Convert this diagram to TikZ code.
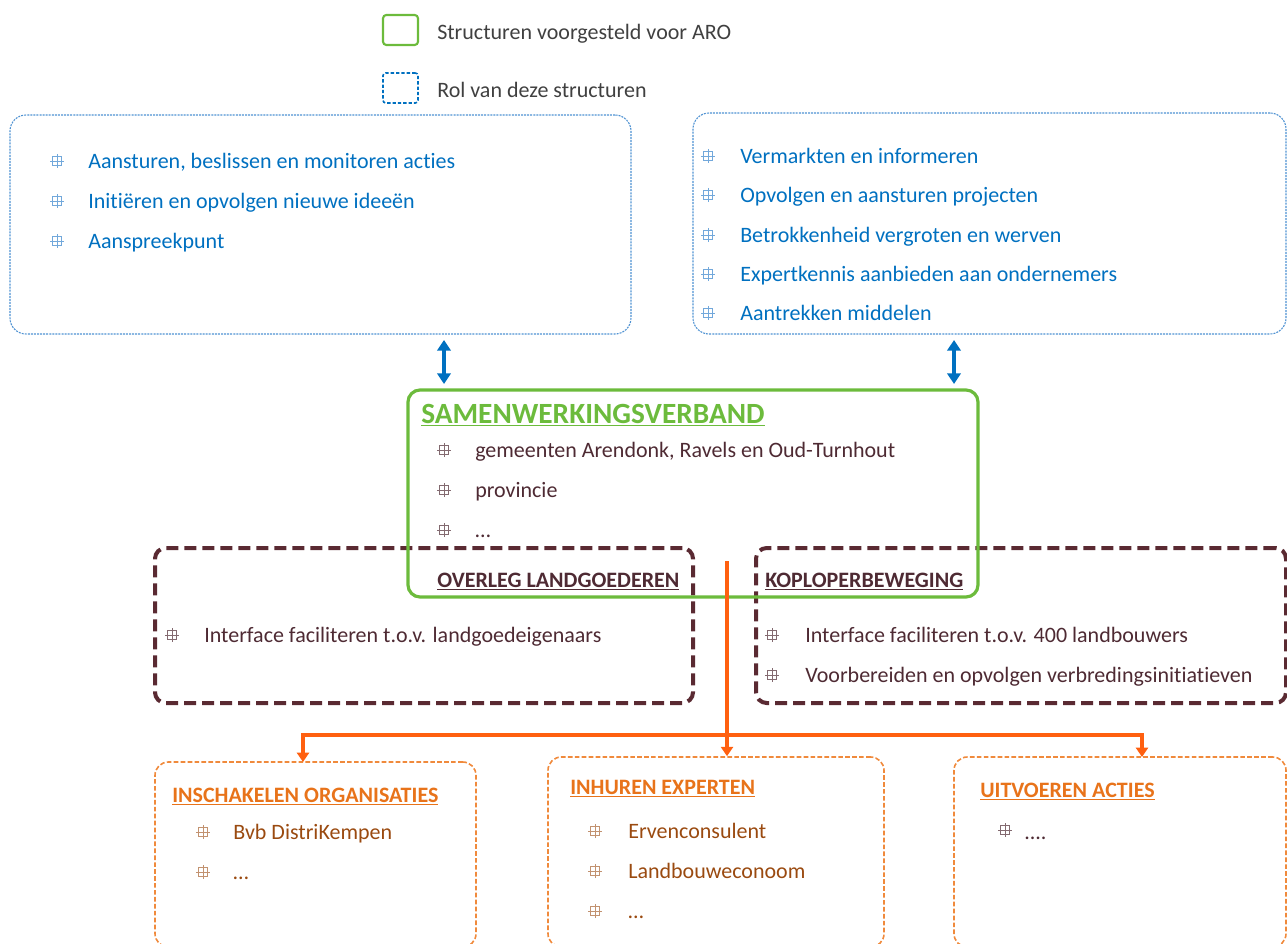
\documentclass[tikz,border=0pt]{standalone}
\usepackage{fontspec}
\setmainfont{Carlito}[Ligatures={NoCommon}]
\usetikzlibrary{arrows.meta,fit}
\definecolor{blueT}{HTML}{0070C0}
\definecolor{blueB}{HTML}{4F92D2}
\definecolor{greenB}{HTML}{6CBB3C}
\definecolor{maroonB}{HTML}{5A2A32}
\definecolor{maroonT}{HTML}{4E2A33}
\definecolor{orangeL}{HTML}{FF6010}
\definecolor{orangeB}{HTML}{F08A3C}
\definecolor{orangeT}{HTML}{E8731A}
\definecolor{brownT}{HTML}{9A4A10}
\definecolor{grayT}{HTML}{404040}
\tikzset{
  bul/.pic={\draw[line width=0.55pt] (-4.5,-4.5) rectangle (4.5,4.5) (-7,0) -- (7,0) (0,-7) -- (0,7);},
  txt/.style={anchor=west, inner sep=0pt, text height=10.8pt, text depth=0pt, font=\fontsize{16.5}{19}\selectfont},
  ttl/.style={anchor=west, inner sep=0pt, text height=11.5pt, text depth=0pt, font=\fontsize{16.5}{19}\selectfont\bfseries},
  bluebox/.style={draw=blueB, line width=0.8pt, dash pattern=on 1.5pt off 0.8pt, rounded corners=12pt, inner sep=0pt},
  greenbox/.style={draw=greenB, line width=2.4pt, rounded corners=9pt, inner sep=0pt},
  maroonbox/.style={draw=maroonB, line width=3pt, dash pattern=on 9pt off 4.5pt, rounded corners=8pt, inner sep=0pt},
  orangebox/.style={draw=orangeB, line width=1.2pt, dash pattern=on 3.5pt off 1.7pt, rounded corners=10pt, inner sep=0pt},
  bluearrow/.style={draw=blueT, line width=3pt, {Triangle[width=10pt,length=8pt]}-{Triangle[width=10pt,length=8pt]}},
  oline/.style={draw=orangeL, line width=2.6pt},
  oarrow/.style={oline, -{Triangle[width=9pt,length=7pt]}}
}
\begin{document}
\begin{tikzpicture}[x=0.75pt,y=-0.75pt]
\useasboundingbox (0,0) rectangle (1287,944);
\clip (0,0) rectangle (1287,944);

% legend
\node[draw=greenB, line width=1.6pt, rounded corners=2.5pt, inner sep=0pt, fit={(383,15) (418,45)}] (lg1) {};
\node[txt, text=grayT] (lt1) at (437,32) {Structuren voorgesteld voor ARO};
\node[draw=blueT, line width=1.2pt, dash pattern=on 2.5pt off 1.5pt, rounded corners=2pt, inner sep=0pt, fit={(383,73) (418,103)}] (lg2) {};
\node[txt, text=grayT] (lt2) at (437,90) {Rol van deze structuren};

% blue role boxes
\node[bluebox, fit={(10,115) (631,334)}] (boxL) {};
\node[bluebox, fit={(693,113) (1286,334)}] (boxR) {};
\foreach \y/\t in {161/{Aansturen, beslissen en monitoren acties},201/{Initiëren en opvolgen nieuwe ideeën},241/{Aanspreekpunt}}{
  \pic[color=blueB!80] at (57,\y) {bul};
  \node[txt, text=blueT] (L\y) at (88,\y) {\t};
}
\foreach \y/\t in {156/{Vermarkten en informeren},195/{Opvolgen en aansturen projecten},235/{Betrokkenheid vergroten en werven},274/{Expertkennis aanbieden aan ondernemers},313/{Aantrekken middelen}}{
  \pic[color=blueB!80] at (708,\y) {bul};
  \node[txt, text=blueT] (R\y) at (740,\y) {\t};
}

% maroon dashed boxes
\node[maroonbox, fit={(155,548) (693,703)}] (boxOL) {};
\node[maroonbox, fit={(756,548) (1286,703)}] (boxKB) {};

% green box
\node[greenbox, fit={(408,390) (978,597)}] (boxS) {};
\node[anchor=west, inner sep=0pt, text height=15.5pt, text depth=0pt, text=greenB, font=\fontsize{22}{25}\selectfont\bfseries] (tS) at (421,413) {\underline{SAMENWERKINGSVERBAND}};
\foreach \y/\t in {450/{gemeenten Arendonk, Ravels en Oud-Turnhout},490/{provincie},530/{…}}{
  \pic[color=maroonT!70] at (444,\y) {bul};
  \node[txt, text=maroonT] (S\y) at (475,\y) {\t};
}

% maroon contents
\node[ttl, text=maroonT] (tOL) at (437,580) {\underline{OVERLEG LANDGOEDEREN}};
\pic[color=maroonT!70] at (172,635) {bul};
\node[txt, text=maroonT] (OL1) at (204,635) {Interface faciliteren t.o.v. landgoedeigenaars};
\node[ttl, text=maroonT] (tKB) at (765,580) {\underline{KOPLOPERBEWEGING}};
\foreach \y/\t in {635/{Interface faciliteren t.o.v. 400 landbouwers},675/{Voorbereiden en opvolgen verbredingsinitiatieven}}{
  \pic[color=maroonT!70] at (772,\y) {bul};
  \node[txt, text=maroonT] (K\y) at (805,\y) {\t};
}

% blue arrows
\coordinate (a1t) at (444,340); \coordinate (a1b) at (444,384);
\coordinate (a2t) at (954,340); \coordinate (a2b) at (954,384);
\draw[bluearrow] (a1t) -- (a1b);
\draw[bluearrow] (a2t) -- (a2b);

% orange boxes
\node[orangebox, fit={(155,762) (476,947)}] (boxO1) {};
\node[orangebox, fit={(548,757) (884,947)}] (boxO2) {};
\node[orangebox, fit={(954,757) (1286,947)}] (boxO3) {};

% orange connectors
\coordinate (oTop) at (727,561);
\coordinate (oJ) at (727,735);
\coordinate (oL) at (303,762);
\coordinate (oR) at (1142,757);
\draw[oarrow] (oTop) -- (boxO2.north -| oTop);
\draw[oarrow] (oJ) -| (oL);
\draw[oarrow] (oJ) -| (oR);

% orange contents
\node[ttl, text=orangeT] (t1) at (172,795) {\underline{INSCHAKELEN ORGANISATIES}};
\foreach \y/\t in {832/{Bvb DistriKempen},872/{…}}{
  \pic[color=brownT!60] at (203,\y) {bul};
  \node[txt, text=brownT] (O\y) at (233,\y) {\t};
}
\node[ttl, text=orangeT] (t2) at (570,787) {\underline{INHUREN EXPERTEN}};
\foreach \y/\t in {831/{Ervenconsulent},871/{Landbouweconoom},911/{…}}{
  \pic[color=brownT!60] at (595,\y) {bul};
  \node[txt, text=brownT] (E\y) at (628,\y) {\t};
}
\node[ttl, text=orangeT] (t3) at (980,790) {\underline{UITVOEREN ACTIES}};
\pic[color=maroonT!70] at (1005,830) {bul};
\node[txt, text=maroonT] (U1) at (1024,832) {....};
\end{tikzpicture}
\end{document}
